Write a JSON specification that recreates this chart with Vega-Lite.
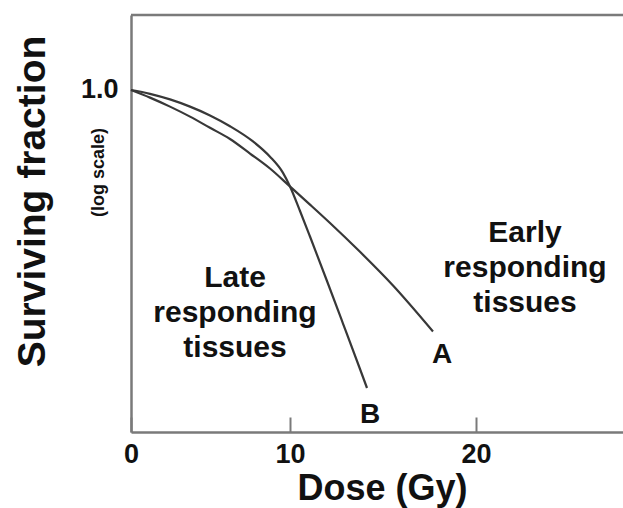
{
  "$schema": "https://vega.github.io/schema/vega-lite/v6.json",
  "width": 492,
  "height": 417,
  "autosize": {"type": "none"},
  "padding": {"left": 131, "top": 15, "right": 0, "bottom": 76},
  "background": "white",
  "config": {"view": {"stroke": null}, "font": "Liberation Sans"},
  "datasets": {
    "curves": [
      {"curve": "B", "dose": 0, "sf": 1},
      {"curve": "B", "dose": 1.195, "sf": 0.9262},
      {"curve": "B", "dose": 2.453, "sf": 0.8272},
      {"curve": "B", "dose": 3.711, "sf": 0.715},
      {"curve": "B", "dose": 4.969, "sf": 0.5986},
      {"curve": "B", "dose": 6.226, "sf": 0.4814},
      {"curve": "B", "dose": 7.673, "sf": 0.354},
      {"curve": "B", "dose": 8.742, "sf": 0.26},
      {"curve": "B", "dose": 9.56, "sf": 0.1875},
      {"curve": "B", "dose": 10, "sf": 0.1424},
      {"curve": "B", "dose": 10.538, "sf": 0.08683},
      {"curve": "B", "dose": 11.075, "sf": 0.05187},
      {"curve": "B", "dose": 11.989, "sf": 0.02112},
      {"curve": "B", "dose": 12.849, "sf": 0.008947},
      {"curve": "B", "dose": 13.763, "sf": 0.00357},
      {"curve": "B", "dose": 14.14, "sf": 0.002432},
      {"curve": "A", "dose": 0, "sf": 1},
      {"curve": "A", "dose": 1.195, "sf": 0.8576},
      {"curve": "A", "dose": 2.453, "sf": 0.715},
      {"curve": "A", "dose": 3.711, "sf": 0.5843},
      {"curve": "A", "dose": 4.969, "sf": 0.4661},
      {"curve": "A", "dose": 6.226, "sf": 0.3717},
      {"curve": "A", "dose": 7.484, "sf": 0.2773},
      {"curve": "A", "dose": 8.742, "sf": 0.2048},
      {"curve": "A", "dose": 10, "sf": 0.1424},
      {"curve": "A", "dose": 11.075, "sf": 0.0988},
      {"curve": "A", "dose": 12.151, "sf": 0.06813},
      {"curve": "A", "dose": 13.763, "sf": 0.03808},
      {"curve": "A", "dose": 15.538, "sf": 0.01928},
      {"curve": "A", "dose": 17.688, "sf": 0.007612}
    ],
    "regions": [
      {"label": ["Late", "responding", "tissues"], "dose": 6.541, "sf": 0.0187},
      {"label": ["Early", "responding", "tissues"], "dose": 22.667, "sf": 0.04642}
    ],
    "letters": [
      {"label": "A", "dose": 18.172, "sf": 0.004029},
      {"label": "B", "dose": 14.301, "sf": 0.0011995}
    ]
  },
  "layer": [
    {
      "layer": [
        {
          "data": {"name": "curves"},
          "mark": {"type": "line", "interpolate": "monotone", "color": "#383838", "strokeWidth": 2.2},
          "encoding": {
            "x": {
              "field": "dose", "type": "quantitative",
              "scale": {"domain": [0, 10, 20, 28], "range": [0, 159, 345, 492], "nice": false, "zero": false},
              "axis": {
                "values": [0, 10, 20], "grid": false,
                "domainColor": "#7a7a7a", "domainWidth": 2.5,
                "tickColor": "#7a7a7a", "tickWidth": 2, "tickSize": -15,
                "labelPadding": 24, "labelFontSize": 27, "labelFontWeight": "bold", "labelColor": "#111111",
                "labelFlush": false, "labelOverlap": false,
                "title": "Dose (Gy)", "titleFontSize": 36, "titleFontWeight": "bold", "titleColor": "#111111",
                "titleX": 251, "titleY": 67, "titleBaseline": "alphabetic", "titleAlign": "center"
              }
            },
            "y": {
              "field": "sf", "type": "quantitative",
              "scale": {"type": "log", "domain": [0.001, 4.55], "nice": false},
              "axis": {
                "values": [1], "format": ".1f", "grid": false, "ticks": false,
                "domainColor": "#7a7a7a", "domainWidth": 2.5,
                "labelPadding": 13, "labelFontSize": 27, "labelFontWeight": "bold", "labelColor": "#111111",
                "labelFlush": false, "labelOffset": -1,
                "title": "Surviving fraction", "titleFontSize": 39, "titleFontWeight": "bold", "titleColor": "#111111",
                "titleX": -87, "titleY": 186, "titleAngle": 270, "titleBaseline": "alphabetic", "titleAlign": "center"
              }
            },
            "detail": {"field": "curve", "type": "nominal"}
          }
        },
        {
          "data": {"name": "regions"},
          "mark": {"type": "text", "fontSize": 30, "fontWeight": "bold", "color": "#111111", "align": "center", "baseline": "alphabetic", "lineHeight": 35},
          "encoding": {
            "x": {"field": "dose", "type": "quantitative"},
            "y": {"field": "sf", "type": "quantitative"},
            "text": {"field": "label", "type": "nominal"}
          }
        },
        {
          "data": {"name": "letters"},
          "mark": {"type": "text", "fontSize": 28, "fontWeight": "bold", "color": "#111111", "align": "center", "baseline": "alphabetic"},
          "encoding": {
            "x": {"field": "dose", "type": "quantitative"},
            "y": {"field": "sf", "type": "quantitative"},
            "text": {"field": "label", "type": "nominal"}
          }
        }
      ]
    },
    {
      "data": {"values": [{}]},
      "mark": {"type": "rule", "color": "#7a7a7a", "strokeWidth": 2.5},
      "encoding": {
        "y": {
          "datum": 4.55, "type": "quantitative",
          "scale": {"type": "log", "domain": [0.001, 4.55], "nice": false},
          "axis": {
            "orient": "right", "domain": false, "ticks": false, "labels": false, "grid": false,
            "title": "(log scale)", "titleFontSize": 18, "titleFontWeight": "bold", "titleColor": "#111111",
            "titleX": -520, "titleY": 157, "titleAngle": 270, "titleBaseline": "alphabetic", "titleAlign": "center"
          }
        }
      }
    }
  ],
  "resolve": {"scale": {"y": "independent"}, "axis": {"y": "independent"}}
}
